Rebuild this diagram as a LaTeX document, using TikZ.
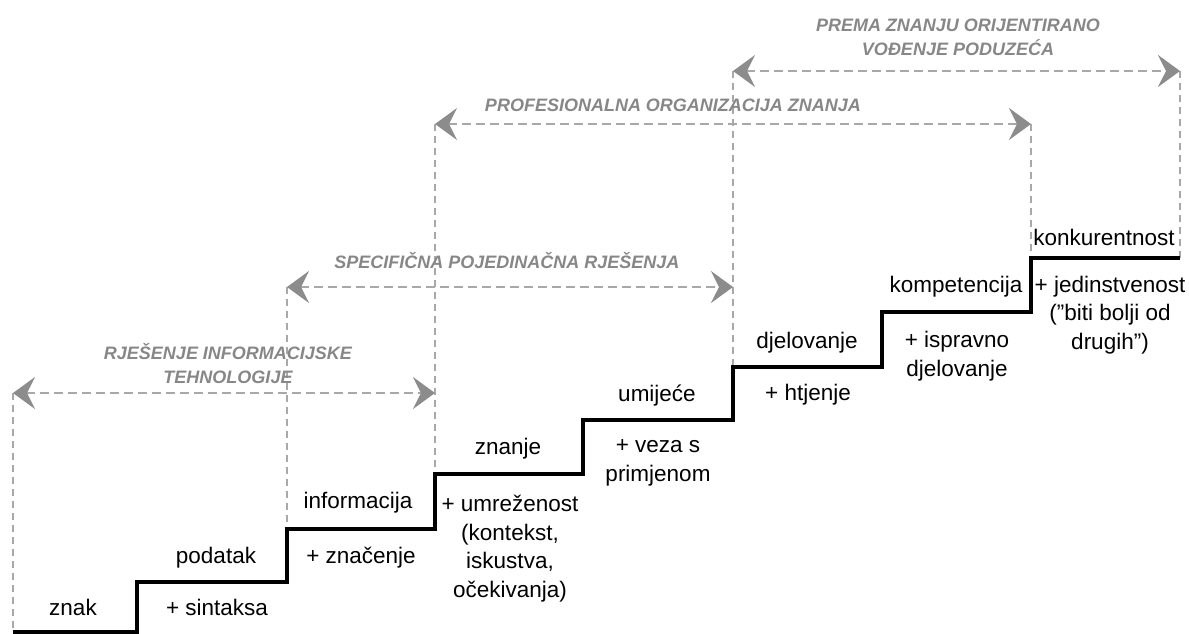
\documentclass[tikz,border=0pt]{standalone}
\usepackage{fontspec}
\setmainfont{Liberation Sans}
\usetikzlibrary{arrows.meta}
\definecolor{dashgray}{RGB}{168,168,168}
\definecolor{arrgray}{RGB}{140,140,140}
\definecolor{labgray}{RGB}{135,135,135}
\begin{document}
\begin{tikzpicture}[x=1pt,y=-1pt,
  stair/.style={line width=4pt, black, line join=miter},
  gtip/.tip={Stealth[length=22pt,width=32pt,inset=8pt,color=arrgray]},
  hdash/.style={draw=dashgray, line width=2.2pt, dash pattern=on 9pt off 5pt, gtip-gtip},
  vdash/.style={draw=dashgray, line width=1.5pt, dash pattern=on 7pt off 5pt},
  word/.style={font=\fontsize{22.5}{28.5}\selectfont, align=center, inner sep=0pt, anchor=base},
  band/.style={font=\fontsize{18}{23.5}\selectfont\bfseries\itshape, text=labgray, align=center, inner sep=0pt, anchor=base}]
\useasboundingbox (0,0) rectangle (1189,633);

% staircase corners
\coordinate (c0) at (13,632);
\coordinate (c1) at (137,632);
\coordinate (c2) at (137,582);
\coordinate (c3) at (287,582);
\coordinate (c4) at (287,529);
\coordinate (c5) at (435,529);
\coordinate (c6) at (435,474);
\coordinate (c7) at (583,474);
\coordinate (c8) at (583,420);
\coordinate (c9) at (733,420);
\coordinate (c10) at (733,367);
\coordinate (c11) at (882,367);
\coordinate (c12) at (882,312);
\coordinate (c13) at (1031,312);
\coordinate (c14) at (1031,258);
\coordinate (c15) at (1180,258);

% arrow ends
\coordinate (a1l) at (13,393);
\coordinate (a1r) at (435,393);
\coordinate (a2l) at (287,287);
\coordinate (a2r) at (733,287);
\coordinate (a3l) at (435,124);
\coordinate (a3r) at (1031,124);
\coordinate (a4l) at (733,71);
\coordinate (a4r) at (1180,71);

% vertical dashed guides
\draw[vdash] (a1l) -- (c0);
\draw[vdash] (a2l) -- (c4);
\draw[vdash] (a3l) -- (c6);
\draw[vdash] (a4l) -- (c10);
\draw[vdash] (a3r) -- (c14);
\draw[vdash] (a4r) -- (c15);

% horizontal double arrows
\draw[hdash] (a1l) -- (a1r);
\draw[hdash] (a2l) -- (a2r);
\draw[hdash] (a3l) -- (a3r);
\draw[hdash] (a4l) -- (a4r);

% staircase
\draw[stair] (c0) -- (c1) -- (c2) -- (c3) -- (c4) -- (c5) -- (c6) -- (c7) -- (c8)
  -- (c9) -- (c10) -- (c11) -- (c12) -- (c13) -- (c14) -- (c15);

% band labels (base = baseline of last line)
\node[band] (b1) at (228,383) {RJEŠENJE INFORMACIJSKE\\TEHNOLOGIJE};
\node[band] (b2) at (507,268) {SPECIFIČNA POJEDINAČNA RJEŠENJA};
\node[band] (b3) at (673,111) {PROFESIONALNA ORGANIZACIJA ZNANJA};
\node[band] (b4) at (958,55) {PREMA ZNANJU ORIJENTIRANO\\VOĐENJE PODUZEĆA};

% level labels (base = baseline of last line)
\node[word] (znak) at (73,615) {znak};
\node[word] (podatak) at (216,563) {podatak};
\node[word] (sint) at (217,615) {+ sintaksa};
\node[word] (info) at (358,508) {informacija};
\node[word] (znac) at (361,563) {+ značenje};
\node[word] (znanje) at (508,454) {znanje};
\node[word] (umrez) at (510,597) {+ umreženost\\(kontekst,\\iskustva,\\očekivanja)};
\node[word] (umij) at (657,401) {umijeće};
\node[word] (veza) at (658,481) {+ veza s\\primjenom};
\node[word] (djel) at (807,348) {djelovanje};
\node[word] (htj) at (808,400) {+ htjenje};
\node[word] (komp) at (956,292) {kompetencija};
\node[word] (isp) at (957,376) {+ ispravno\\djelovanje};
\node[word] (konk) at (1104,245) {konkurentnost};
\node[word] (jed) at (1110,349) {+ jedinstvenost\\("biti bolji od\\drugih")};
\end{tikzpicture}
\end{document}
